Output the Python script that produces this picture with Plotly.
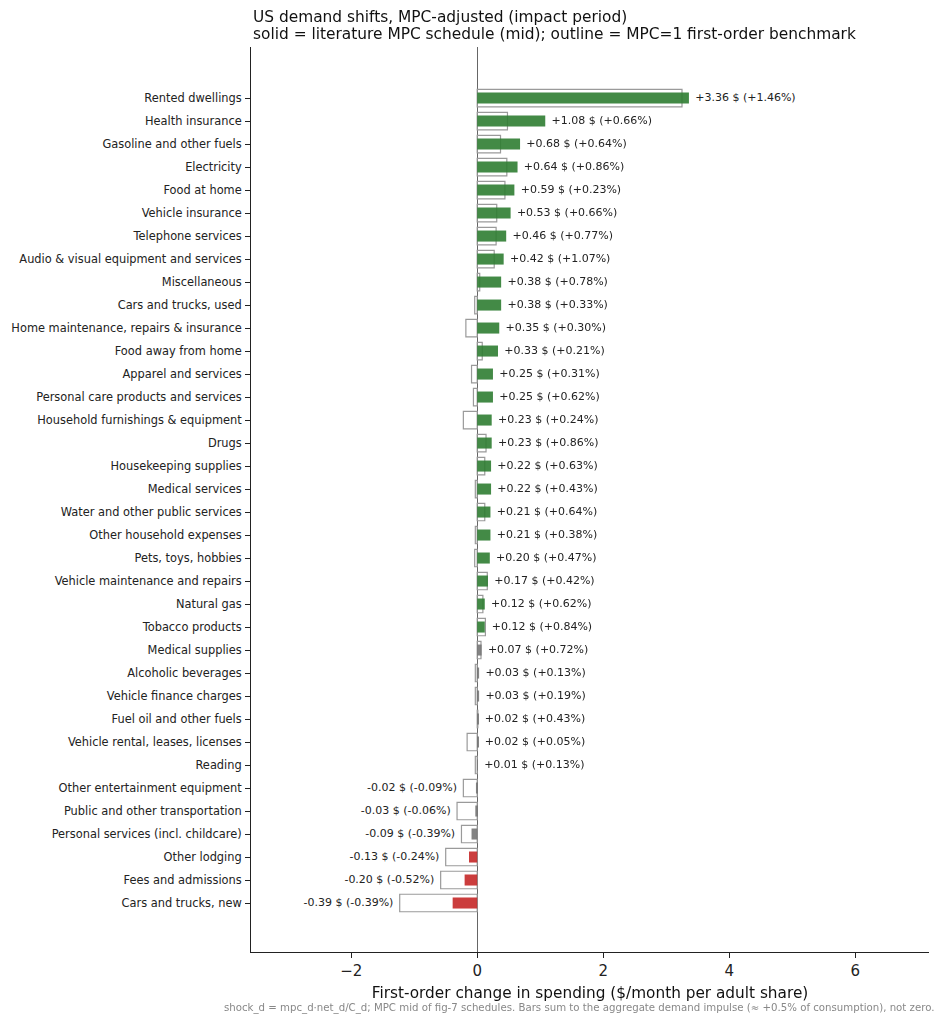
import plotly.graph_objects as go

categories = [
    "Rented dwellings", "Health insurance", "Gasoline and other fuels", "Electricity",
    "Food at home", "Vehicle insurance", "Telephone services",
    "Audio & visual equipment and services", "Miscellaneous", "Cars and trucks, used",
    "Home maintenance, repairs & insurance", "Food away from home", "Apparel and services",
    "Personal care products and services", "Household furnishings & equipment", "Drugs",
    "Housekeeping supplies", "Medical services", "Water and other public services",
    "Other household expenses", "Pets, toys, hobbies", "Vehicle maintenance and repairs",
    "Natural gas", "Tobacco products", "Medical supplies", "Alcoholic beverages",
    "Vehicle finance charges", "Fuel oil and other fuels", "Vehicle rental, leases, licenses",
    "Reading", "Other entertainment equipment", "Public and other transportation",
    "Personal services (incl. childcare)", "Other lodging", "Fees and admissions",
    "Cars and trucks, new",
]
mpc_shift = [3.36, 1.08, 0.68, 0.64, 0.59, 0.53, 0.46, 0.42, 0.38, 0.38, 0.35, 0.33,
             0.25, 0.25, 0.23, 0.23, 0.22, 0.22, 0.21, 0.21, 0.20, 0.17, 0.12, 0.12,
             0.07, 0.03, 0.03, 0.02, 0.02, 0.01, -0.02, -0.03, -0.09, -0.13, -0.20, -0.39]
pct_shift = [1.46, 0.66, 0.64, 0.86, 0.23, 0.66, 0.77, 1.07, 0.78, 0.33, 0.30, 0.21,
             0.31, 0.62, 0.24, 0.86, 0.63, 0.43, 0.64, 0.38, 0.47, 0.42, 0.62, 0.84,
             0.72, 0.13, 0.19, 0.43, 0.05, 0.13, -0.09, -0.06, -0.39, -0.24, -0.52, -0.39]
benchmark = [3.25, 0.48, 0.37, 0.47, 0.44, 0.31, 0.30, 0.27, 0.04, -0.04, -0.18, 0.08,
             -0.09, -0.06, -0.22, 0.14, 0.12, -0.03, 0.12, -0.03, -0.04, 0.16, 0.09, 0.13,
             0.06, -0.03, -0.03, 0.01, -0.16, -0.03, -0.22, -0.32, -0.25, -0.50, -0.58, -1.23]

title_line1 = "US demand shifts, MPC-adjusted (impact period)"
title_line2 = "solid = literature MPC schedule (mid); outline = MPC=1 first-order benchmark"
x_title = "First-order change in spending ($/month per adult share)"
footer = ("shock_d = mpc_d·net_d/C_d; MPC mid of fig-7 schedules. Bars sum to the aggregate "
          "demand impulse (≈ +0.5% of consumption), not zero.")

GREEN = "#2e7d32"
RED = "#c62828"
GREY = "#757575"
colors = [GREEN if v >= 0.1 else (RED if v <= -0.1 else GREY) for v in mpc_shift]

fig = go.Figure()
fig.add_trace(go.Bar(
    y=categories, x=benchmark, orientation="h", width=0.76,
    marker=dict(color="rgba(255,255,255,0)", line=dict(color="#9a9a9a", width=1.2)),
    showlegend=False, hoverinfo="skip",
))
fig.add_trace(go.Bar(
    y=categories, x=mpc_shift, orientation="h", width=0.48,
    marker=dict(color=colors, line=dict(width=0)), opacity=0.9,
    showlegend=False,
))

pos_x, pos_y, pos_t = [], [], []
neg_x, neg_y, neg_t = [], [], []
for c, v, p, b in zip(categories, mpc_shift, pct_shift, benchmark):
    txt = f"{v:+.2f} $ ({p:+.2f}%)"
    if v >= 0:
        pos_x.append(max(v, b) + 0.1); pos_y.append(c); pos_t.append(txt)
    else:
        neg_x.append(min(v, b) - 0.1); neg_y.append(c); neg_t.append(txt)

lbl_font = dict(size=11, color="#222222", family="DejaVu Sans")
fig.add_trace(go.Scatter(x=pos_x, y=pos_y, text=pos_t, mode="text",
                         textposition="middle right", textfont=lbl_font,
                         showlegend=False, hoverinfo="skip", cliponaxis=False))
fig.add_trace(go.Scatter(x=neg_x, y=neg_y, text=neg_t, mode="text",
                         textposition="middle left", textfont=lbl_font,
                         showlegend=False, hoverinfo="skip", cliponaxis=False))

n = len(categories)
W, H = 930, 1008
L, T, R, B = 243, 39, 9, 64
plot_h = H - T - B
fig.update_layout(
    width=W, height=H,
    margin=dict(l=L, r=R, t=T, b=B, autoexpand=False),
    plot_bgcolor="white", paper_bgcolor="white",
    barmode="overlay",
    font=dict(family="DejaVu Sans", color="#222222"),
    xaxis=dict(
        range=[-3.59, 7.17], dtick=2, showgrid=False, automargin=False,
        zeroline=True, zerolinecolor="#666666", zerolinewidth=1,
        showline=True, linecolor="#222222", linewidth=1, mirror=False,
        ticks="outside", ticklen=5, tickcolor="#222222",
        tickfont=dict(size=15, color="#222222"),
        title=dict(text=x_title, font=dict(size=15.3, color="#111111"), standoff=8),
    ),
    yaxis=dict(
        categoryorder="array", categoryarray=categories, automargin=False,
        range=[n - 1 + 2.13, -2.22], showgrid=False, zeroline=False,
        showline=True, linecolor="#222222", linewidth=1,
        ticks="outside", ticklen=5, tickcolor="#222222", ticklabelstandoff=1,
        tickfont=dict(size=11.4, color="#222222"),
    ),
    annotations=[
        dict(text=title_line1, xref="paper", yref="paper", x=0, y=1 + (T - 9) / plot_h,
             xanchor="left", yanchor="middle", showarrow=False,
             font=dict(size=15.4, color="#111111", family="DejaVu Sans")),
        dict(text=title_line2, xref="paper", yref="paper", x=0, y=1 + (T - 26) / plot_h,
             xanchor="left", yanchor="middle", showarrow=False,
             font=dict(size=15.4, color="#111111", family="DejaVu Sans")),
        dict(text=footer, xref="paper", yref="paper", x=1.0103, y=-0.0619,
             xanchor="right", yanchor="middle", showarrow=False,
             font=dict(size=10.2, color="#888888", family="DejaVu Sans")),
    ],
)

fig.write_html("out.html")
